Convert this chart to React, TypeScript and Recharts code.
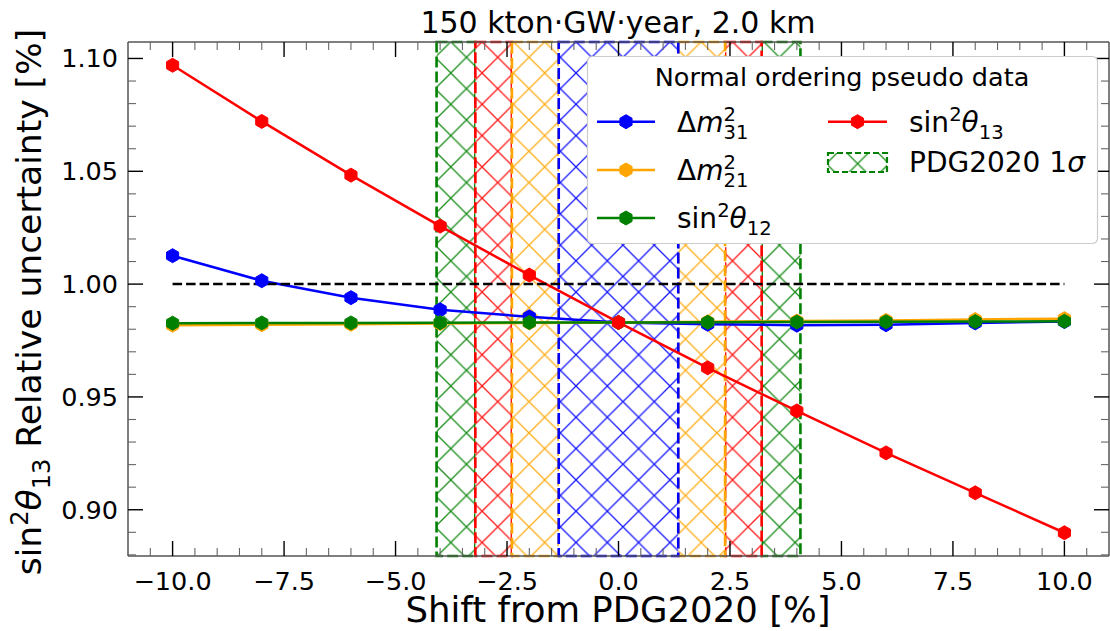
import React from 'react';
import { LineChart, Line, XAxis, YAxis, ReferenceArea } from 'recharts';

// ---------------- data ----------------
const shifts = [-10, -8, -6, -4, -2, 0, 2, 4, 6, 8, 10];
const dm31Values = [1.0126, 1.0015, 0.994, 0.9886, 0.9855, 0.983, 0.9822, 0.9818, 0.982, 0.9828, 0.9834];
const dm21Values = [0.9818, 0.982, 0.9822, 0.9825, 0.9828, 0.983, 0.9833, 0.9836, 0.9839, 0.9843, 0.9847];
const s12Values = [0.9827, 0.9828, 0.9828, 0.9829, 0.983, 0.983, 0.9831, 0.9832, 0.9833, 0.9834, 0.9835];
const s13Values = [1.097, 1.0721, 1.0483, 1.0257, 1.004, 0.983, 0.9629, 0.9438, 0.9252, 0.9075, 0.8898];
const refX = [-10, 10];
const refY = [1.0, 1.0];

// PDG2020 1 sigma half widths [%]
const sigmaS12 = 4.08;
const sigmaS13 = 3.21;
const sigmaDm21 = 2.39;
const sigmaDm31 = 1.34;

const xMajorTicks = [-10, -7.5, -5, -2.5, 0, 2.5, 5, 7.5, 10];
const yMajorTicks = [0.9, 0.95, 1.0, 1.05, 1.1];

const X_DOMAIN: [number, number] = [-11, 11];
const Y_DOMAIN: [number, number] = [0.8795, 1.1073];

// ---------------- derived tables ----------------
const xAllTicks: number[] = [];
for (let i = -21; i <= 21; i++) xAllTicks.push(i / 2);
const yAllTicks: number[] = [];
for (let i = 88; i <= 110; i++) yAllTicks.push(i / 100);

const tableData = shifts.map((x, i) => ({
  x,
  dm31: dm31Values[i],
  dm21: dm21Values[i],
  s12: s12Values[i],
  s13: s13Values[i],
}));
const refData = refX.map((x, i) => ({ x, ref: refY[i] }));

const BLUE = '#0000ff';
const ORANGE = '#ffa500';
const GREEN = '#008000';
const RED = '#ff0000';

const bands = [
  { id: 'g', color: GREEN, x1: -sigmaS12, x2: -sigmaS13 },
  { id: 'g', color: GREEN, x1: sigmaS13, x2: sigmaS12 },
  { id: 'r', color: RED, x1: -sigmaS13, x2: -sigmaDm21 },
  { id: 'r', color: RED, x1: sigmaDm21, x2: sigmaS13 },
  { id: 'o', color: ORANGE, x1: -sigmaDm21, x2: -sigmaDm31 },
  { id: 'o', color: ORANGE, x1: sigmaDm31, x2: sigmaDm21 },
  { id: 'b', color: BLUE, x1: -sigmaDm31, x2: sigmaDm31 },
];

const FONT = '"DejaVu Sans", Verdana, sans-serif';
const W = 1110;
const H = 631;
const D = 31.3; // hatch spacing

const isIn = (v: number, arr: number[]) => arr.some((m) => Math.abs(m - v) < 1e-6);
const fmtX = (v: number) => v.toFixed(1).replace('-', '\u2212');
const fmtY = (v: number) => v.toFixed(2);

const MAJ = { len: 15, color: '#000', w: 1.4 };
const MIN = { len: 8, color: '#666', w: 1.1 };

function BottomTick(props: any) {
  const { x, y, payload } = props;
  const v = payload.value;
  const t = isIn(v, xMajorTicks) ? MAJ : MIN;
  return (
    <g>
      <line x1={x} y1={y} x2={x} y2={y - t.len} stroke={t.color} strokeWidth={t.w} />
      {t === MAJ && (
        <text x={x} y={y + 34} textAnchor="middle" fontSize={25.5} fontFamily={FONT} fill="#000">
          {fmtX(v)}
        </text>
      )}
    </g>
  );
}
function TopTick(props: any) {
  const { x, y, payload } = props;
  const t = isIn(payload.value, xMajorTicks) ? MAJ : MIN;
  return <line x1={x} y1={y} x2={x} y2={y + t.len} stroke={t.color} strokeWidth={t.w} />;
}
function LeftTick(props: any) {
  const { x, y, payload } = props;
  const v = payload.value;
  const t = isIn(v, yMajorTicks) ? MAJ : MIN;
  return (
    <g>
      <line x1={x} y1={y} x2={x + t.len} y2={y} stroke={t.color} strokeWidth={t.w} />
      {t === MAJ && (
        <text x={x - 10} y={y + 9} textAnchor="end" fontSize={25.5} fontFamily={FONT} fill="#000">
          {fmtY(v)}
        </text>
      )}
    </g>
  );
}
function RightTick(props: any) {
  const { x, y, payload } = props;
  const t = isIn(payload.value, yMajorTicks) ? MAJ : MIN;
  return <line x1={x} y1={y} x2={x - t.len} y2={y} stroke={t.color} strokeWidth={t.w} />;
}

function hexPoints(cx: number, cy: number, r: number) {
  const pts: string[] = [];
  for (let k = 0; k < 6; k++) {
    const a = ((-90 + 60 * k) * Math.PI) / 180;
    pts.push(`${cx + r * Math.cos(a)},${cy + r * Math.sin(a)}`);
  }
  return pts.join(' ');
}
function Hex({ cx, cy, fill }: { cx: number; cy: number; fill: string }) {
  return <polygon points={hexPoints(cx, cy, 7)} fill={fill} stroke={fill} strokeWidth={1} />;
}
const makeDot = (color: string) => (p: any) => {
  if (p.cx == null || p.cy == null) return <g key={p.index} />;
  return <Hex key={p.index} cx={p.cx} cy={p.cy} fill={color} />;
};

function HatchPattern({ id, color, x = 12.6, y = 10.4 }: { id: string; color: string; x?: number; y?: number }) {
  const d = D;
  const path = [
    `M-1,-1L${d + 1},${d + 1}`,
    `M-1,${d - 1}L1,${d + 1}`,
    `M${d - 1},-1L${d + 1},1`,
    `M${d + 1},-1L-1,${d + 1}`,
    `M-1,1L1,-1`,
    `M${d - 1},${d + 1}L${d + 1},${d - 1}`,
  ].join(' ');
  return (
    <pattern id={id} patternUnits="userSpaceOnUse" x={x} y={y} width={d} height={d}>
      <rect x={0} y={0} width={d} height={d} fill="#ffffff" />
      <path d={path} stroke={color} strokeOpacity={0.9} strokeWidth={1.3} fill="none" />
    </pattern>
  );
}

// ---------- legend / text pieces ----------
const LFS = 28;
const SUP = 0.7 * LFS;

function DmLabel({ x, y, sub }: { x: number; y: number; sub: string }) {
  return (
    <text x={x} y={y} fontSize={LFS} fontFamily={FONT} fill="#000">
      <tspan>Δ</tspan>
      <tspan fontStyle="italic">m</tspan>
      <tspan fontSize={SUP} dy={-11}>2</tspan>
      <tspan fontSize={SUP} dy={18} dx={-SUP * 0.636}>{sub}</tspan>
    </text>
  );
}
function SinLabel({ x, y, sub, fs = LFS, supShift = 11, subShift = 7, rest = '', anchor }: any) {
  const s = 0.7 * fs;
  return (
    <text x={x} y={y} fontSize={fs} fontFamily={FONT} fill="#000" textAnchor={anchor}>
      <tspan>sin</tspan>
      <tspan fontSize={s} dy={-supShift}>2</tspan>
      <tspan fontStyle="italic" dy={supShift}>θ</tspan>
      <tspan fontSize={s} dy={subShift}>{sub}</tspan>
      {rest && <tspan dy={-subShift}>{rest}</tspan>}
    </text>
  );
}

function LegendHandle({ x1, x2, y, color }: { x1: number; x2: number; y: number; color: string }) {
  return (
    <g>
      <line x1={x1} y1={y} x2={x2} y2={y} stroke={color} strokeWidth={2.5} />
      <Hex cx={(x1 + x2) / 2} cy={y} fill={color} />
    </g>
  );
}

function Overlay() {
  return (
    <svg
      width={W}
      height={H}
      style={{ position: 'absolute', left: 0, top: 0, pointerEvents: 'none', zIndex: 2 }}
    >
      <defs>
        <HatchPattern id="legHatch" color={GREEN} x={842} y={148} />
      </defs>
      {/* title */}
      <text x={618} y={33} textAnchor="middle" fontSize={30} fontFamily={FONT} fill="#000">
        150 kton·GW·year, 2.0 km
      </text>
      {/* x label */}
      <text x={618} y={622} textAnchor="middle" fontSize={35.5} fontFamily={FONT} fill="#000">
        Shift from PDG2020 [%]
      </text>
      {/* y label */}
      <g transform="translate(41,302) rotate(-90)">
        <SinLabel x={0} y={0} sub="13" fs={34.5} supShift={13} subShift={8.5} rest=" Relative uncertainty [%]" anchor="middle" />
      </g>
      {/* legend */}
      <rect x={587.5} y={56.5} width={510} height={187} rx={5} ry={5} fill="#ffffff" stroke="#cccccc" strokeWidth={1.2} />
      <text x={842} y={86} textAnchor="middle" fontSize={25.5} fontFamily={FONT} fill="#000">
        Normal ordering pseudo data
      </text>
      <LegendHandle x1={597} x2={655} y={121.7} color={BLUE} />
      <DmLabel x={677} y={131.7} sub="31" />
      <LegendHandle x1={597} x2={655} y={170} color={ORANGE} />
      <DmLabel x={677} y={180} sub="21" />
      <LegendHandle x1={597} x2={655} y={218} color={GREEN} />
      <SinLabel x={677} y={228} sub="12" />
      <LegendHandle x1={828} x2={887} y={121.7} color={RED} />
      <SinLabel x={909} y={131.7} sub="13" />
      <rect x={828} y={153} width={59} height={19} fill="url(#legHatch)" stroke={GREEN} strokeWidth={2.2} strokeDasharray="6 3" />
      <text x={909} y={172} fontSize={LFS} fontFamily={FONT} fill="#000">
        PDG2020 1<tspan fontStyle="italic">σ</tspan>
      </text>
    </svg>
  );
}

export default function App() {
  return (
    <div style={{ position: 'absolute', left: 0, top: 0, width: W, height: H, background: '#fff' }}>
      <LineChart
        width={W}
        height={H}
        data={tableData}
        margin={{ top: 41, right: 0, bottom: 74, left: 127 }}
      >
        <defs>
          <HatchPattern id="hatch-g" color={GREEN} />
          <HatchPattern id="hatch-r" color={RED} />
          <HatchPattern id="hatch-o" color={ORANGE} />
          <HatchPattern id="hatch-b" color={BLUE} />
        </defs>
        <XAxis
          dataKey="x"
          type="number"
          domain={X_DOMAIN}
          allowDataOverflow
          ticks={xAllTicks}
          interval={0}
          height={1}
          tickSize={0}
          tickMargin={0}
          tickLine={false}
          tick={(p: any) => <BottomTick {...p} />}
          axisLine={{ stroke: '#555', strokeWidth: 1.5 }}
        />
        <XAxis
          xAxisId="top"
          orientation="top"
          dataKey="x"
          type="number"
          domain={X_DOMAIN}
          allowDataOverflow
          ticks={xAllTicks}
          interval={0}
          height={1}
          tickSize={0}
          tickMargin={0}
          tickLine={false}
          tick={(p: any) => <TopTick {...p} />}
          axisLine={{ stroke: '#555', strokeWidth: 1.5 }}
        />
        <YAxis
          type="number"
          domain={Y_DOMAIN}
          allowDataOverflow
          ticks={yAllTicks}
          interval={0}
          width={1}
          tickSize={0}
          tickMargin={0}
          tickLine={false}
          tick={(p: any) => <LeftTick {...p} />}
          axisLine={{ stroke: '#555', strokeWidth: 1.5 }}
        />
        <YAxis
          yAxisId="right"
          orientation="right"
          type="number"
          domain={Y_DOMAIN}
          allowDataOverflow
          ticks={yAllTicks}
          interval={0}
          width={1}
          tickSize={0}
          tickMargin={0}
          tickLine={false}
          tick={(p: any) => <RightTick {...p} />}
          axisLine={{ stroke: '#555', strokeWidth: 1.5 }}
        />
        {bands.map((b, i) => (
          <ReferenceArea
            key={'band' + i}
            x1={b.x1}
            x2={b.x2}
            y1={Y_DOMAIN[0]}
            y2={Y_DOMAIN[1]}
            fill={`url(#hatch-${b.id})`}
            fillOpacity={1}
            stroke={b.color}
            strokeWidth={2.6}
            strokeDasharray="11 4"
            ifOverflow="visible"
          />
        ))}
        <Line type="linear" dataKey="dm31" stroke={BLUE} strokeWidth={2.5} dot={makeDot(BLUE)} activeDot={false} isAnimationActive={false} />
        <Line type="linear" dataKey="dm21" stroke={ORANGE} strokeWidth={2.5} dot={makeDot(ORANGE)} activeDot={false} isAnimationActive={false} />
        <Line type="linear" dataKey="s12" stroke={GREEN} strokeWidth={2.5} dot={makeDot(GREEN)} activeDot={false} isAnimationActive={false} />
        <Line type="linear" dataKey="s13" stroke={RED} strokeWidth={2.5} dot={makeDot(RED)} activeDot={false} isAnimationActive={false} />
        <Line
          data={refData}
          type="linear"
          dataKey="ref"
          stroke="#000"
          strokeWidth={2.5}
          strokeDasharray="9.5 4"
          dot={false}
          activeDot={false}
          isAnimationActive={false}
        />
      </LineChart>
      <Overlay />
    </div>
  );
}
